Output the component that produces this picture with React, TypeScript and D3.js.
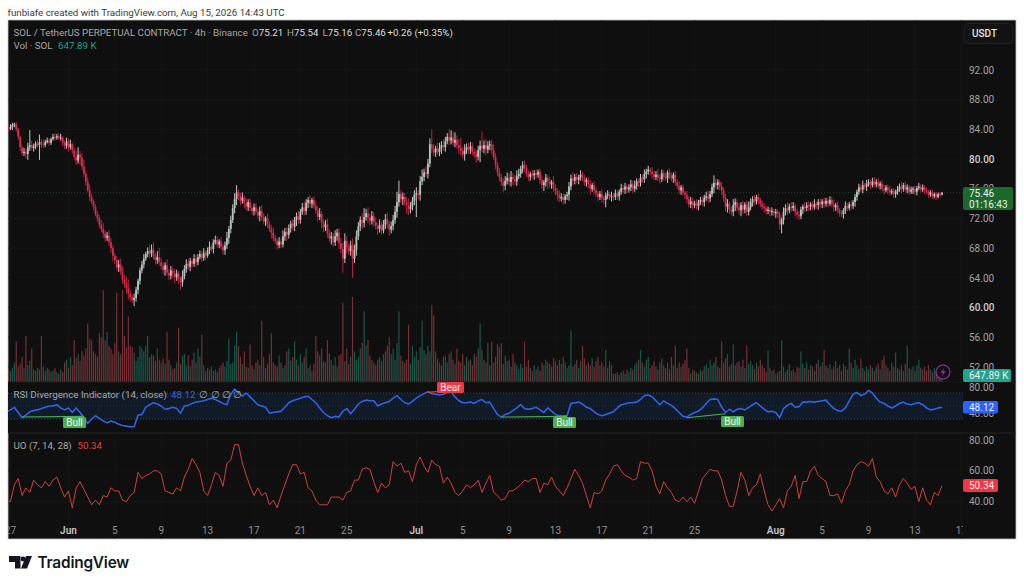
import * as d3 from "d3";

const closes = [
  84.3, 84.1,
  84.3, 84.6, 84.7, 84.0, 83.0, 81.6,
  80.8, 81.0, 80.7, 81.6, 81.9, 81.5,
  81.7, 82.1, 81.9, 82.3, 82.0, 81.9,
  82.3, 82.5, 82.2, 82.7, 83.0, 82.9,
  83.1, 82.8, 82.9, 82.2, 81.8, 82.4,
  81.6, 82.0, 81.2, 80.3, 79.8, 80.6,
  80.2, 79.0, 78.0, 76.9, 75.8, 74.9,
  74.3, 73.6, 72.6, 72.0, 71.2, 70.6,
  70.0, 69.4, 69.7, 68.8, 68.0, 67.0,
  66.4, 65.4, 65.8, 64.9, 63.8, 63.2,
  62.6, 61.9, 61.4, 61.0, 61.3, 62.4,
  63.6, 65.0, 65.8, 66.6, 67.2, 67.6,
  67.3, 67.8, 66.9, 66.4, 66.8, 66.1,
  65.6, 65.1, 65.7, 64.7, 64.3, 65.0,
  64.6, 64.1, 64.6, 63.8, 63.4, 64.2,
  65.2, 65.9, 65.5, 66.3, 65.9, 66.6,
  66.1, 66.8, 67.2, 66.7, 67.4, 67.0,
  67.7, 68.2, 67.9, 68.8, 69.1, 68.5,
  68.9, 68.2, 67.7, 68.4, 69.4, 70.6,
  71.8, 73.4, 74.6, 75.5, 75.0, 74.4,
  74.8, 74.1, 73.6, 74.2, 73.4, 73.0,
  73.5, 72.9, 72.4, 73.0, 72.2, 71.6,
  72.0, 71.2, 70.6, 70.1, 69.4, 69.0,
  68.4, 68.9, 68.5, 69.6, 70.2, 69.8,
  70.7, 71.3, 70.9, 71.8, 72.3, 71.8,
  72.9, 73.5, 73.0, 74.1, 74.5, 74.0,
  74.5, 73.7, 73.1, 72.2, 72.6, 71.5,
  70.8, 71.2, 70.0, 69.3, 69.6, 68.8,
  69.6, 70.1, 68.7, 67.9, 66.6, 69.0,
  68.1, 67.6, 68.4, 66.6, 67.8, 69.6,
  70.9, 71.8, 71.4, 72.2, 72.7, 72.1,
  71.7, 72.3, 71.5, 71.0, 70.6, 71.1,
  70.4, 71.2, 71.9, 71.2, 70.5, 71.0,
  71.8, 72.9, 74.2, 75.3, 74.6, 74.9,
  74.2, 73.8, 73.3, 73.6, 74.4, 75.2,
  75.4, 75.2, 77.0, 77.6, 78.2, 78.0,
  79.4, 82.0, 81.4, 80.9, 81.4, 81.0,
  81.5, 81.9, 81.6, 82.4, 83.0, 82.5,
  82.9, 82.2, 82.6, 81.9, 81.5, 81.1,
  80.6, 81.2, 81.6, 81.3, 81.7, 81.0,
  80.7, 80.3, 81.2, 81.8, 81.4, 81.9,
  81.3, 81.8, 82.0, 81.2, 80.3, 79.2,
  78.2, 77.6, 76.9, 76.4, 77.1, 77.5,
  76.9, 77.6, 77.3, 77.0, 77.7, 78.0,
  78.7, 79.2, 78.8, 78.0, 77.6, 78.0,
  77.8, 78.1, 77.9, 78.3, 77.2, 76.5,
  76.9, 77.5, 77.0, 76.6, 76.9, 76.1,
  75.7, 75.2, 74.7, 74.9, 74.5, 75.0,
  75.2, 76.3, 77.4, 77.1, 77.6, 77.2,
  77.6, 77.9, 77.4, 76.9, 77.2, 76.6,
  76.0, 76.5, 75.8, 75.4, 74.9, 75.3,
  74.7, 74.5, 75.1, 75.3, 74.9, 75.0,
  74.9, 75.4, 75.0, 75.6, 76.1, 75.9,
  76.3, 75.9, 76.2, 76.6, 76.0, 76.4,
  77.0, 76.8, 77.5, 77.3, 78.0, 78.3,
  78.6, 78.3, 78.0, 77.6, 77.9, 77.5,
  77.3, 78.1, 77.6, 77.4, 78.2, 77.8,
  77.4, 77.9, 76.9, 76.4, 75.8, 76.2,
  75.5, 75.2, 74.6, 73.9, 74.3, 73.8,
  74.0, 73.7, 74.2, 74.5, 74.2, 74.8,
  75.0, 74.7, 75.3, 76.2, 76.8, 76.5,
  76.9, 76.3, 75.8, 74.8, 73.6, 74.0,
  73.2, 72.9, 73.8, 74.2, 73.5, 73.1,
  73.8, 73.2, 73.9, 72.9, 73.5, 74.2,
  74.6, 74.3, 74.9, 74.5, 74.0, 73.6,
  73.4, 73.0, 73.2, 72.9, 73.0, 72.7,
  72.9, 72.6, 71.2, 71.8, 72.9, 73.4,
  73.1, 73.6, 73.4, 73.7, 72.9, 72.5,
  72.3, 73.2, 73.6, 73.4, 73.8, 73.6,
  73.9, 73.5, 74.0, 73.8, 74.2, 73.9,
  74.3, 74.0, 74.4, 74.0, 74.5, 73.9,
  73.5, 73.8, 73.1, 72.7, 72.6, 73.1,
  73.7, 73.4, 73.9, 73.7, 74.2, 74.9,
  75.6, 76.2, 75.9, 76.5, 76.3, 76.7,
  76.9, 76.5, 77.0, 76.6, 76.9, 76.4,
  76.7, 76.0, 75.8, 76.2, 75.8, 75.5,
  75.7, 75.3, 75.6, 75.9, 76.3, 76.0,
  76.5, 75.9, 76.2, 75.6, 75.9, 76.0,
  75.6, 76.1, 76.3, 75.9, 76.2, 75.8,
  75.6, 75.2, 75.5, 75.0, 75.3, 74.9,
  75.3, 75.21, 75.46,
];

// wick lengths above and below the body, in tenths of a dollar
const wickUp = [
  3,2,4,3,2,3,2,1,3,5, 4,6,20,6,4,3,5,10,4,6, 3,4,3,2,4,5,3,4,5,2, 3,5,4,6,2,4,8,10,5,6,
  9,5,6,8,4,3,3,4,5,6, 8,4,5,7,6,4,3,5,6,8, 7,6,10,12,5,3,6,4,3,4, 5,6,3,5,8,7,10,4,8,12,
  6,5,4,8,5,6,4,6,5,3, 4,8,5,6,6,4,3,6,5,4, 5,4,6,3,4,7,3,4,6,5, 3,6,4,5,8,4,6,5,8,10,
  4,5,7,3,6,4,5,3,5,6, 4,6,8,5,3,6,4,5,7,4, 3,6,4,8,5,6,5,4,6,4, 5,7,4,6,8,5,4,6,3,5,
  6,5,8,4,3,6,8,5,6,4, 8,5,6,7,8,10,6,5,6,9, 7,8,6,5,9,12,6,8,5,7, 5,6,4,8,5,6,7,9,5,6,
  7,8,14,18,5,6,5,7,9,6, 5,6,8,4,7,10,5,8,6,8, 20,6,4,8,7,5,8,6,5,10, 10,8,10,6,8,14,6,8,5,6,
  6,5,4,5,6,7,19,6,8,6, 5,6,8,5,4,6,4,5,6,7, 6,8,5,6,8,7,4,5,6,4, 5,3,6,4,5,3,4,6,3,5,
  4,6,3,8,5,4,6,5,4,3, 4,6,5,8,4,5,3,6,4,5, 3,4,6,3,5,4,3,4,6,3, 4,5,3,6,4,5,4,3,6,4,
  5,3,4,6,5,7,4,3,5,4, 6,4,5,3,6,4,5,8,4,5, 4,6,3,5,4,3,5,4,6,3, 4,3,5,4,6,5,4,6,3,4,
  5,4,6,8,4,5,10,6,4,3, 6,4,5,6,3,4,8,5,4,6, 4,6,3,5,8,5,4,6,3,5, 3,4,5,3,4,3,5,3,4,3,
  4,3,6,5,8,4,6,5,3,4, 5,4,3,6,4,5,3,4,6,3, 4,5,3,5,4,3,5,4,6,3, 5,3,4,3,6,4,3,5,3,4,
  3,5,4,6,3,5,4,3,5,6, 4,6,3,4,5,3,4,6,3,4, 3,5,4,6,3,5,4,3,4,3, 4,3,5,3,4,3,4,3,3,4,
  2,3,2,3,1,
];
const wickDown = [
  2,3,2,4,3,3,4,5,3,4, 6,8,5,3,5,4,3,20,5,4, 3,2,4,3,2,4,3,2,3,4, 5,4,6,3,5,4,6,4,10,5,
  4,5,3,6,4,5,3,4,5,4, 6,5,4,5,6,8,5,4,6,5, 6,5,7,8,6,4,8,5,6,5, 4,5,3,4,6,5,4,6,5,4,
  5,6,8,4,6,5,6,8,5,6, 10,6,4,5,4,6,5,4,6,4, 3,5,4,6,3,5,4,6,3,4, 5,4,6,6,5,8,6,4,7,8,
  5,6,4,7,5,6,4,5,6,4, 5,8,5,4,6,5,4,8,5,4, 6,4,5,4,6,8,5,6,5,6, 8,6,5,4,6,5,7,5,6,4,
  5,6,4,8,6,5,6,4,8,6, 5,6,8,6,19,6,8,5,6,26, 6,8,5,6,8,6,5,8,6,5, 6,5,8,5,6,4,6,5,8,5,
  6,5,8,6,5,8,6,12,8,6, 5,6,30,6,8,5,6,4,6,5, 6,5,6,4,6,8,5,6,4,6, 5,4,6,5,8,6,5,8,5,6,
  6,5,6,8,5,16,5,6,8,5, 6,5,4,6,5,6,5,8,6,5, 5,6,8,5,6,4,5,6,5,4, 6,5,4,6,5,4,6,5,8,6,
  10,4,6,5,6,8,5,4,6,5, 5,8,5,6,5,4,6,5,4,5, 6,5,8,4,6,5,6,4,5,6, 10,5,4,6,5,4,5,6,4,5,
  6,5,4,5,6,4,5,6,5,4, 5,6,4,5,6,5,4,5,6,4, 5,4,6,5,4,6,5,4,5,6, 4,6,5,4,5,6,4,5,6,4,
  5,6,4,6,5,4,8,5,6,5, 6,5,7,8,6,5,6,8,5,6, 8,6,5,6,5,4,6,5,4,6, 5,4,6,5,4,6,5,4,6,5,
  7,12,6,5,6,4,5,4,6,5, 5,4,6,5,4,6,5,4,3,5, 6,4,5,6,4,5,3,4,6,5, 4,5,4,6,5,4,3,5,4,6,
  5,4,3,5,4,6,4,5,3,4, 4,3,5,4,6,3,5,4,3,5, 5,4,3,6,4,3,5,4,3,6, 4,5,3,4,3,5,3,4,3,4,
  3,4,2,3,1,
];

// volume per bar, in millions of SOL
const volumes = [
  0.7,0.9,0.8,1.0,1.4,2.9,1.1,1.3,1.8,1.0, 3.3,1.2,1.5,2.4,0.9,0.8,1.0,0.9,3.3,1.1,
  0.8,1.0,0.9,0.7,0.8,1.0,0.7,0.6,0.9,0.7, 1.4,1.6,1.0,1.8,1.2,3.0,1.7,2.0,1.5,2.2,
  1.9,2.4,4.2,3.1,3.0,2.2,2.0,1.8,3.5,3.2, 6.6,3.0,3.6,2.6,2.4,2.0,2.8,6.4,2.2,2.0,
  6.6,3.3,2.5,4.7,2.6,2.5,2.1,1.5,1.8,2.6, 2.4,2.2,2.6,3.3,1.8,2.0,1.9,1.5,2.4,1.6,
  1.4,1.7,1.3,3.6,1.6,1.2,0.9,1.0,1.4,3.9, 1.3,1.9,2.0,1.2,1.9,1.1,1.6,2.1,1.4,2.4,
  1.8,3.4,1.2,0.8,1.0,0.9,1.1,0.8,0.9,0.7, 1.0,1.2,1.4,1.1,1.5,3.1,1.3,1.4,2.6,3.6,
  2.6,1.8,1.3,2.2,1.1,1.0,2.7,1.2,0.9,1.4, 1.6,1.2,4.4,1.8,1.0,1.3,2.0,3.5,1.4,1.2,
  1.1,1.9,1.4,1.0,1.2,2.2,2.4,1.5,1.8,2.9, 1.6,1.2,2.0,1.4,1.8,2.4,1.0,1.2,0.8,1.3,
  3.3,2.2,1.9,2.4,1.5,1.4,3.0,2.0,1.6,1.2, 1.8,1.1,1.9,2.0,5.7,1.5,2.4,1.3,1.8,6.1,
  2.2,1.6,1.8,2.4,2.8,5.1,2.6,3.0,1.9,1.6, 1.4,1.2,1.6,1.8,1.5,2.0,2.2,2.6,3.2,2.0,
  2.4,1.6,2.8,5.1,1.9,1.5,1.4,1.6,4.1,1.3, 2.6,1.8,2.2,1.6,2.5,4.4,2.3,2.0,2.6,2.2,
  5.5,4.8,2.2,1.7,1.4,1.2,1.8,1.9,1.4,2.0, 2.2,1.6,1.3,2.4,1.5,1.4,2.0,1.2,1.8,1.5,
  1.6,1.2,2.0,1.8,2.4,4.2,2.3,1.6,1.4,2.8, 1.2,2.9,1.4,1.8,2.7,2.5,2.8,1.3,1.9,1.5,
  1.6,1.1,2.0,1.4,1.2,0.9,1.3,1.0,2.9,1.1, 1.6,1.0,0.8,1.2,0.9,1.1,0.8,1.4,1.2,1.6,
  1.4,1.3,1.1,1.7,1.5,1.2,1.6,1.3,1.8,1.4, 1.0,1.2,3.7,1.1,1.3,1.6,1.0,1.5,2.6,1.7,
  1.2,1.4,1.2,1.7,1.1,1.5,1.8,1.2,1.4,1.1, 2.3,1.0,1.5,1.2,0.6,0.6,0.7,0.5,0.7,0.8,
  0.6,0.9,0.7,1.0,0.9,1.2,1.4,1.6,2.3,1.4, 1.1,1.6,1.8,1.0,1.2,1.5,1.1,0.9,1.4,1.7,
  1.2,1.0,1.4,0.9,1.8,1.2,2.6,1.0,1.4,1.1, 1.3,1.6,2.4,1.0,0.6,0.9,0.8,0.7,0.6,0.9,
  0.8,1.1,1.3,1.0,1.6,1.2,1.4,1.8,1.1,1.0, 2.9,1.4,1.7,2.0,1.1,1.3,2.7,1.2,1.4,1.5,
  1.1,1.6,1.0,2.6,1.3,1.5,1.2,0.9,1.4,1.1, 1.6,1.2,1.0,0.7,2.3,1.0,0.8,0.9,0.6,0.7,
  0.8,3.0,1.1,0.7,0.9,1.3,0.8,0.9,0.7,1.1, 1.0,2.2,1.3,1.0,1.4,0.9,1.2,1.1,0.8,1.3,
  1.6,1.1,1.4,2.3,1.2,1.0,1.3,0.9,1.1,1.5, 1.0,1.2,0.8,1.3,1.1,0.9,2.4,1.4,1.0,1.6,
  1.2,0.9,1.7,1.0,0.8,1.1,0.9,1.2,1.0,0.8, 1.1,1.3,0.9,1.6,1.9,1.2,1.0,0.8,1.4,1.1,
  2.1,1.0,0.9,1.2,0.8,1.3,2.6,1.0,0.9,1.1, 0.8,1.2,1.6,1.0,0.9,1.1,0.8,1.2,0.9,0.7,
  1.0,0.8,0.6,0.5,0.648,
];

// RSI and UO were read every second bar
const rsiValues = [
  41,44,48, 40,32,36, 41,43,44, 46,48,50, 50,52,47, 44,47,40, 47,40,32, 23,30,35, 31,27,24,
  27,25,22, 20,19,18, 18,36,37, 48,52,55, 53,50,45, 46,48,46, 39,50,51, 54,56,57, 58,60,62,
  60,57,54, 52,68,76, 70,65,70, 64,58,52, 50,48,39, 40,41,42, 48,55,58, 60,62,64, 65,60,55,
  47,40,35, 32,34,33, 42,46,38, 45,53,57, 59,58,58, 50,53,55, 57,62,66, 60,55,53, 57,62,66,
  69,72,69, 68,67,68, 71,72,64, 58,55,55, 56,54,58, 60,55,56, 46,37,33, 37,39,43, 47,52,46,
  45,46,48, 44,40,47, 42,37,35, 35,35,54, 55,56,53, 48,46,41, 37,35,37, 39,41,47, 52,53,55,
  55,56,60, 66,67,64, 58,52,58, 54,51,46, 40,34,33, 37,40,42, 47,54,60, 61,60,48, 40,45,41,
  45,46,44, 48,52,55, 50,45,41, 42,40,32, 46,51,54, 48,49,56, 56,57,56, 57,58,59, 52,46,43,
  42,47,58, 68,71,66, 68,74,70, 62,56,54, 50,47,50, 54,56,53, 52,54,55, 52,47,44, 45,47,48.12,
];
const uoValues = [
  40,40,51, 55,44,49, 46,54,51, 49,53,50, 54,56,49, 43,47,36, 49,53,48, 43,38,41, 38,44,43,
  49,47,47, 41,40,44, 46,59,55, 57,58,60, 60,58,47, 46,45,49, 47,56,61, 68,64,59, 47,44,51,
  59,57,50, 65,67,77, 77,65,57, 50,44,49, 44,46,38, 41,36,44, 51,58,64, 64,58,59, 49,47,41,
  38,38,38, 43,43,43, 41,46,47, 54,54,61, 62,61,53, 46,52,49, 51,66,63, 65,59,60, 53,64,69,
  63,59,67, 64,63,52, 56,52,46, 44,47,51, 49,51,54, 46,52,57, 46,44,41, 42,47,47, 49,51,54,
  53,55,55, 46,52,51, 56,50,47, 44,49,55, 61,57,52, 44,36,46, 45,47,54, 58,63,64, 60,57,56,
  54,55,66, 65,65,60, 50,45,53, 49,46,41, 40,43,40, 43,39,47, 55,58,61, 60,60,54, 44,37,37,
  47,59,54, 44,49,51, 58,47,38, 34,38,42, 36,47,50, 57,42,53, 53,60,63, 57,55,53, 44,44,45,
  39,47,51, 60,64,66, 65,63,68, 56,53,47, 45,49,43, 51,55,52, 48,50,40, 49,41,38, 46,44,50.34,
];

const priceTicks = [92, 88, 84, 80, 76, 72, 68, 64, 60, 56, 52];
const rsiTicks = [80, 40];
const uoTicks = [80, 60, 40];
const dateLabels = ["27", "Jun", "5", "9", "13", "17", "21", "25", "Jul", "5", "9", "13", "17", "21", "25", "Aug", "5", "9", "13", "17"];
const dateBars = [2, 32, 56, 80, 104, 128, 152, 176, 212, 236, 260, 284, 308, 332, 356, 398, 422, 446, 470, 494];
const ohlcLabels = ["O", "H", "L", "C"];
const ohlcValues = ["75.21", "75.54", "75.16", "75.46"];
const ohlcOffsets = [252, 287, 322.5, 355];
const divergenceLabels = ["Bull", "Bull", "Bull", "Bear"];
const divergenceBars = [[8, 40], [256, 290], [352, 372], [218, 230]];

const FONT = "Roboto, 'Noto Sans', sans-serif";
const W = 1024;
const H = 585;
const PANE = { left: 8, right: 1016, top: 20, bottom: 539, axis: 963 };
const BG = "#0f0f0f";
const GRID = "#171717";
const RED = "#dd2a4b";
const UP_BODY = "#b4c6ba";
const UP_WICK = "#f2f2f2";
const AXIS_TEXT = "#a3a3a3";
const LEGEND = "#a8a8a8";
const LEGEND_SIZE = 9.75;

const x = d3.scaleLinear().domain([0, closes.length - 1]).range([6.6, 942]);
const y = d3.scaleLinear().domain([52, 92]).range([367, 70]);
const volY = d3.scaleLinear().domain([0, 6.6]).range([382, 290]);
const rsiY = d3.scaleLinear().domain([30, 70]).range([419, 393]);
const uoY = d3.scaleLinear().domain([40, 80]).range([501.7, 440]);

const rsiLine = d3.line<number>().x((_, i) => x((i / (rsiValues.length - 1)) * (closes.length - 1))).y((d) => rsiY(d));
const uoLine = d3.line<number>().x((_, i) => x((i / (uoValues.length - 1)) * (closes.length - 1))).y((d) => uoY(d));

function Tag({ yTop, w, h, fill, lines }: { yTop: number; w: number; h: number; fill: string; lines: string[] }) {
  return (
    <g>
      <rect x={963} y={yTop} width={w} height={h} rx={2} fill={fill} />
      {lines.map((t, i) => (
        <text key={i} x={969} y={yTop + 9.8 + i * 11} fontSize={10} fill="#eeeeee">
          {t}
        </text>
      ))}
    </g>
  );
}

export default function App() {
  const price = closes.map((c, i) => {
    const open = i === 0 ? c : closes[i - 1];
    return {
      i,
      open,
      close: c,
      high: Math.max(open, c) + wickUp[i] / 10,
      low: Math.min(open, c) - wickDown[i] / 10,
      up: c >= open,
    };
  });
  const volWidth = 1.2;

  return (
    <svg width={W} height={H} viewBox={`0 0 ${W} ${H}`} style={{ position: "absolute", left: 0, top: 0, background: "#fff" }} fontFamily={FONT}>
      <defs>
        <clipPath id="plot">
          <rect x={PANE.left} y={PANE.top} width={PANE.axis - PANE.left} height={PANE.bottom - PANE.top} />
        </clipPath>
      </defs>

      <text x={7.5} y={15.5} fontSize={9.75} fill="#3a3a3a">
        funbiafe created with TradingView.com, Aug 15, 2026 14:43 UTC
      </text>
      <rect x={PANE.left} y={PANE.top} width={PANE.right - PANE.left} height={PANE.bottom - PANE.top} fill={BG} stroke="#c4c4c4" strokeWidth={0.8} />

      <g clipPath="url(#plot)">
        {dateBars.map((b, i) => (
          <line key={i} x1={x(b)} x2={x(b)} y1={PANE.top} y2={PANE.bottom} stroke={GRID} strokeWidth={0.7} />
        ))}
        {priceTicks.map((t) => (
          <line key={t} x1={PANE.left} x2={PANE.axis} y1={y(t)} y2={y(t)} stroke={GRID} strokeWidth={0.7} />
        ))}
        {uoTicks.map((t) => (
          <line key={t} x1={PANE.left} x2={PANE.axis} y1={uoY(t)} y2={uoY(t)} stroke={GRID} strokeWidth={0.7} />
        ))}
        <line x1={PANE.left} x2={PANE.axis} y1={y(75.46)} y2={y(75.46)} stroke="#2c5a38" strokeWidth={0.7} strokeDasharray="1 2" />

        {volumes.map((v, i) => (
          <rect
            key={i}
            x={x(i) - volWidth / 2}
            y={volY(v)}
            width={volWidth}
            height={volY(0) - volY(v)}
            fill={price[i].up ? "#1d7362" : "#a13c42"}
            opacity={0.72}
          />
        ))}

        {price.map((d) => (
          <g key={d.i}>
            <line x1={x(d.i)} x2={x(d.i)} y1={y(d.high)} y2={y(d.low)} stroke={d.up ? UP_WICK : RED} strokeWidth={0.8} />
            <rect
              x={x(d.i) - 0.9}
              y={y(Math.max(d.open, d.close))}
              width={1.8}
              height={Math.max(1, Math.abs(y(d.open) - y(d.close)))}
              fill={d.up ? UP_BODY : RED}
            />
          </g>
        ))}

        {/* RSI pane */}
        <rect x={PANE.left} y={382} width={PANE.axis - PANE.left} height={51} fill={BG} />
        <rect x={PANE.left} y={rsiY(70)} width={PANE.axis - PANE.left} height={rsiY(30) - rsiY(70)} fill="#101b27" />
        {[70, 50, 30].map((t) => (
          <line key={t} x1={PANE.left} x2={PANE.axis} y1={rsiY(t)} y2={rsiY(t)} stroke="#5b6675" strokeWidth={0.7} strokeDasharray="1 2" opacity={t === 50 ? 0.5 : 0.9} />
        ))}
        <path d={rsiLine(rsiValues) ?? ""} fill="none" stroke="#2f62e6" strokeWidth={1.6} strokeLinejoin="round" />

        {/* divergence lines */}
        {divergenceBars.map((b, i) => (
          <line
            key={i}
            x1={x(b[0])}
            x2={x(b[1])}
            y1={i === 3 ? rsiY(71) : i === 2 ? rsiY(32) : rsiY(33)}
            y2={i === 3 ? rsiY(74) : i === 2 ? rsiY(38) : rsiY(34)}
            stroke={i === 3 ? "#f23645" : "#4caf50"}
            strokeWidth={1.1}
          />
        ))}

        <line x1={PANE.left} x2={PANE.axis} y1={382} y2={382} stroke="#1c1c1c" strokeWidth={0.8} />
        <line x1={PANE.left} x2={PANE.axis} y1={433} y2={433} stroke="#262626" strokeWidth={0.9} />

        <path d={uoLine(uoValues) ?? ""} fill="none" stroke="#d9423f" strokeWidth={0.95} strokeLinejoin="round" />

        {dateLabels.map((t, i) => (
          <text
            key={i}
            x={x(dateBars[i])}
            y={533.5}
            textAnchor="middle"
            fontSize={10}
            fill={["Jun", "Jul", "Aug"].includes(t) ? "#c4c4c4" : "#8f8f8f"}
            fontWeight={["Jun", "Jul", "Aug"].includes(t) ? 600 : 400}
          >
            {t}
          </text>
        ))}
      </g>
      <line x1={PANE.axis} x2={PANE.right} y1={382} y2={382} stroke="#1c1c1c" strokeWidth={0.8} />
      <line x1={PANE.axis} x2={PANE.right} y1={433} y2={433} stroke="#262626" strokeWidth={0.9} />

      {/* divergence tags */}
      {divergenceLabels.map((t, i) => {
        const left = [63, 553, 721, 437][i];
        const top = [417, 417, 416, 382][i];
        const w = i === 3 ? 27 : 23;
        return (
          <g key={i}>
            <rect x={left} y={top} width={w} height={11} rx={1.5} fill={t === "Bear" ? "#f23645" : "#4caf50"} />
            <text x={left + w / 2} y={top + 8.8} textAnchor="middle" fontSize={10} fill="#f4f4f4">
              {t}
            </text>
          </g>
        );
      })}

      {/* legends */}
      <text x={13.5} y={35.5} fontSize={LEGEND_SIZE} fill={LEGEND}>
        SOL / TetherUS PERPETUAL CONTRACT · 4h · Binance
      </text>
      {ohlcLabels.map((l, i) => (
        <text key={l} x={ohlcOffsets[i]} y={35.5} fontSize={LEGEND_SIZE} fill={LEGEND}>
          {l}
          <tspan fill="#dedede">{ohlcValues[i]}</tspan>
        </text>
      ))}
      <text x={387.5} y={35.5} fontSize={LEGEND_SIZE} fill="#dedede">
        +0.26 (+0.35%)
      </text>
      <text x={13.5} y={48.5} fontSize={LEGEND_SIZE} fill={LEGEND}>
        Vol · SOL
      </text>
      <text x={58} y={48.5} fontSize={LEGEND_SIZE} fill="#2a9d8a">
        647.89 K
      </text>

      <text x={13.5} y={398} fontSize={LEGEND_SIZE} fill={LEGEND}>
        RSI Divergence Indicator (14, close)
      </text>
      <text x={171} y={398} fontSize={LEGEND_SIZE} fill="#2f62e6">
        48.12
      </text>
      {[199, 211, 222, 233].map((p) => (
        <text key={p} x={p} y={398} fontSize={LEGEND_SIZE} fill={LEGEND}>
          ∅
        </text>
      ))}

      <text x={13.5} y={449} fontSize={LEGEND_SIZE} fill={LEGEND}>
        UO (7, 14, 28)
      </text>
      <text x={77.5} y={449} fontSize={LEGEND_SIZE} fill="#e0423f">
        50.34
      </text>

      {/* right axes */}
      {priceTicks.map((t) => (
        <text key={t} x={969} y={y(t) + 3.6} fontSize={10} fill={t === 80 || t === 60 ? "#cfcfcf" : AXIS_TEXT} fontWeight={t === 80 || t === 60 ? 500 : 400}>
          {t.toFixed(2)}
        </text>
      ))}
      {rsiTicks.map((t) => (
        <text key={t} x={969} y={(t === 80 ? 387 : 413) + 3.6} fontSize={10} fill={AXIS_TEXT}>
          {t.toFixed(2)}
        </text>
      ))}
      {uoTicks.map((t) => (
        <text key={t} x={969} y={uoY(t) + 3.6} fontSize={10} fill={AXIS_TEXT}>
          {t.toFixed(2)}
        </text>
      ))}

      <rect x={964} y={23.5} width={49} height={20} rx={4} fill="#121212" stroke="#222" />
      <text x={972} y={37} fontSize={10} fill="#e6e6e6" fontWeight={500}>
        USDT
      </text>

      <Tag yTop={187} w={50} h={23} fill="#1b6a2d" lines={["75.46", "01:16:43"]} />
      <Tag yTop={369} w={48} h={13} fill="#1fa58f" lines={["647.89 K"]} />
      <Tag yTop={401} w={35} h={12.5} fill="#2962ff" lines={["48.12"]} />
      <Tag yTop={479} w={35} h={13} fill="#f23645" lines={["50.34"]} />

      {/* lightning button */}
      <circle cx={943} cy={372} r={7} fill={BG} stroke="#9c2fb0" strokeWidth={1.1} />
      <path d="M944.5 367.5 L940.5 372.8 L943 372.8 L941.6 376.5 L945.6 371.2 L943.1 371.2 Z" fill="#9c2fb0" />

      {/* logo */}
      <path d="M9 556 H20.5 V568.5 H15 V562 H9 Z" fill="#131722" />
      <circle cx={23} cy={559} r={2.4} fill="#131722" />
      <path d="M26 556 H32 L27 568.5 H21 Z" fill="#131722" />
      <text x={37.5} y={567.5} fontFamily="Inter, Roboto, sans-serif" fontSize={15.4} fontWeight={600} fill="#131722" letterSpacing={-0.2}>
        TradingView
      </text>
    </svg>
  );
}
